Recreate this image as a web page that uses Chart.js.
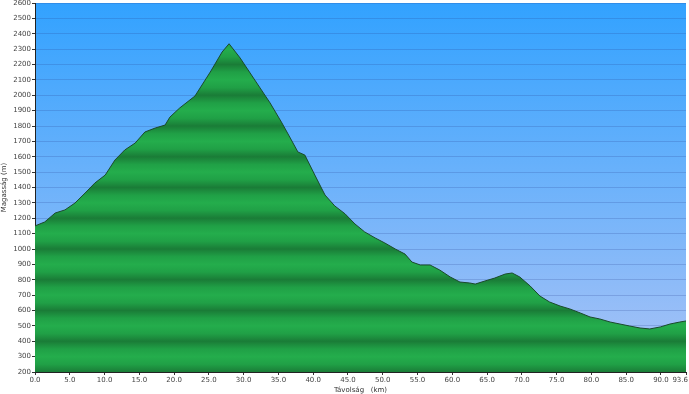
<!DOCTYPE html>
<html>
<head>
<meta charset="utf-8">
<script src="https://cdn.jsdelivr.net/npm/chart.js@4/dist/chart.umd.min.js"></script>
<style>
    body { margin: 0; background: #fff; }
    #wrap { width: 689px; height: 394px; }
</style>
</head>
<body>
<div id="wrap"><canvas id="profileChart"></canvas></div>
<script>
// Elevation profile data
const distances = [0, 1.4, 2.9, 4.3, 5.75, 7.2, 8.6, 10.1, 11.5, 12.9, 14.4, 15.8, 17.3, 18.7, 19.4, 20.8, 23.0, 25.2, 26.9, 27.9,
    29.5, 31.6, 33.8, 35.5, 36.7, 37.8, 38.8, 40.3, 41.7, 43.1, 44.6, 46.0, 47.4, 48.9, 50.3, 51.8, 53.2, 54.2, 55.4, 56.8,
    58.2, 59.7, 61.1, 62.5, 63.3, 64.7, 66.1, 67.6, 68.6, 69.7, 71.2, 72.6, 74.0, 75.5, 76.9, 78.4, 79.8, 81.2, 82.7, 84.1,
    85.5, 87.0, 88.4, 89.9, 91.3, 92.7, 93.6];
const elevations = [1150, 1176, 1234, 1254, 1299, 1364, 1429, 1481, 1579, 1644, 1689, 1761, 1787, 1806, 1858, 1917, 1995, 2151, 2281, 2335,
    2242, 2099, 1950, 1820, 1722, 1631, 1611, 1475, 1351, 1280, 1228, 1163, 1111, 1072, 1039, 1000, 967, 915, 896, 896,
    863, 818, 785, 779, 772, 792, 811, 837, 844, 818, 759, 694, 655, 629, 610, 584, 558, 545, 525, 512,
    499, 486, 480, 493, 512, 525, 532];
const xTicks = [0, 5, 10, 15, 20, 25, 30, 35, 40, 45, 50, 55, 60, 65, 70, 75, 80, 85, 90, 93.6];
const yMin = 200;
const yMax = 2600;

const FONT = { family: 'Verdana, "DejaVu Sans", sans-serif', size: 7 };

// sky gradient behind the plot
const skyPlugin = {
    id: 'sky',
    beforeDraw(chart) {
        const { ctx, chartArea } = chart;
        if (!chartArea) return;
        const g = ctx.createLinearGradient(0, chartArea.top, 0, chartArea.bottom);
        g.addColorStop(0, '#32a2ff');
        g.addColorStop(1, '#aac3f6');
        ctx.save();
        ctx.fillStyle = g;
        ctx.fillRect(chartArea.left, chartArea.top, chartArea.right - chartArea.left, chartArea.bottom - chartArea.top);
        ctx.restore();
    }
};

// last x label sits right-aligned at the edge
const lastLabelPlugin = {
    id: 'lastLabel',
    afterDraw(chart) {
        const { ctx } = chart;
        const x = chart.scales.x;
        ctx.save();
        ctx.font = FONT.size + 'px ' + FONT.family;
        ctx.fillStyle = '#444';
        ctx.textAlign = 'right';
        ctx.textBaseline = 'top';
        ctx.fillText('93.6', chart.width - 1, x.top + 5);
        ctx.restore();
    }
};

function groundFill(context) {
    const chart = context.chart;
    const { ctx, chartArea, scales } = chart;
    if (!chartArea) return '#22a848';
    const top = scales.y.getPixelForValue(yMax);
    const bottom = scales.y.getPixelForValue(yMin);
    const g = ctx.createLinearGradient(0, top, 0, bottom);
    for (let v = yMax; v >= yMin; v -= 50) {
        const pos = (yMax - v) / (yMax - yMin);
        let col;
        if (v % 200 === 0) col = '#1a7c37';
        else if (v % 100 === 0) col = '#24ad4c';
        else col = '#20a046';
        g.addColorStop(pos, col);
    }
    return g;
}

new Chart(document.getElementById('profileChart'), {
    type: 'line',
    data: {
        datasets: [{
            data: distances.map((d, i) => ({ x: d, y: elevations[i] })),
            borderColor: '#1b4a2c',
            borderWidth: 1,
            backgroundColor: groundFill,
            fill: 'start',
            pointRadius: 0,
            tension: 0
        }]
    },
    options: {
        responsive: true,
        maintainAspectRatio: false,
        animation: false,
        layout: { padding: { left: 0, right: 3, top: 0, bottom: 0 } },
        plugins: {
            legend: { display: false },
            tooltip: { enabled: false }
        },
        scales: {
            x: {
                type: 'linear',
                min: 0,
                max: 93.6,
                afterBuildTicks: (scale) => { scale.ticks = xTicks.map(v => ({ value: v })); },
                afterFit: (scale) => { scale.height = 22; scale.paddingRight = 0; scale.paddingLeft = 0; },
                ticks: {
                    autoSkip: false,
                    maxRotation: 0,
                    padding: 1,
                    color: '#444',
                    font: FONT,
                    callback: (v) => v === 93.6 ? '' : v.toFixed(1)
                },
                grid: { drawOnChartArea: false, tickLength: 3, tickColor: '#333' },
                border: { color: '#222', width: 1 },
                title: { display: true, text: 'Távolság   (km)', color: '#333', font: FONT, padding: 0 }
            },
            y: {
                min: yMin,
                max: yMax,
                afterFit: (scale) => { scale.width = 35; scale.paddingTop = 3; },
                ticks: { stepSize: 100, padding: 1, color: '#444', font: FONT, callback: (v) => String(v) },
                grid: { color: 'rgba(40, 70, 150, 0.22)', tickLength: 3, tickColor: '#333' },
                border: { color: '#222', width: 1 },
                title: { display: true, text: 'Magasság (m)', color: '#333', font: FONT, padding: 0 }
            }
        }
    },
    plugins: [skyPlugin, lastLabelPlugin]
});
</script>
</body>
</html>
